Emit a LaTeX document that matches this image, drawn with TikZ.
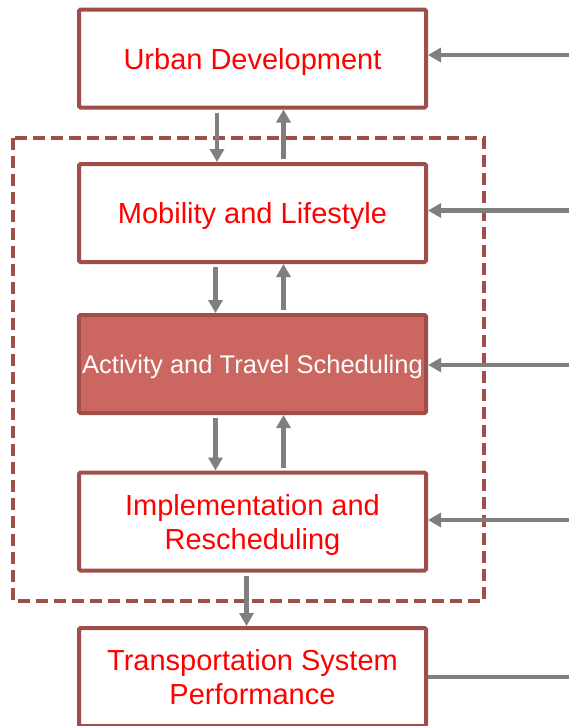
\documentclass[tikz,border=0pt]{standalone}
\usepackage{fontspec}
\setmainfont{Liberation Sans}
\usepackage{xcolor}
\usetikzlibrary{arrows.meta}

\definecolor{boxred}{RGB}{160,78,73}
\definecolor{boxfill}{RGB}{204,102,96}
\definecolor{arrgray}{RGB}{127,127,127}

\begin{document}
\begin{tikzpicture}[x=1pt, y=-1pt, box/.style={rectangle, draw=boxred, line width=4pt, rounded corners=1.5pt, minimum width=347pt, minimum height=98pt, text=red, align=center, text depth=0pt, font=\fontsize{29}{34}\selectfont}, hot/.style={box, fill=boxfill, text=white, font=\fontsize{25.5}{30}\selectfont}, arr/.style={draw=arrgray, line width=4.5pt, -{Triangle[length=13pt,width=14pt]}}, dashbox/.style={draw=boxred, line width=3.5pt, dash pattern=on 12pt off 6pt}]
\useasboundingbox (0,0) rectangle (569,726);
\draw [dashbox] (13,138) rectangle (484,601);
\node[box] (1) at (252.5,58.5) {Urban Development};
\node[box] (2) at (252.5,213) {Mobility and Lifestyle};
\node[hot] (3) at (252.5,364) {Activity and Travel Scheduling};
\node[box] (4) at (252.5,521.5) {Implementation and\\Rescheduling};
\node[box] (5) at (252.5,677) {Transportation System\\Performance};
\coordinate (e1) at (569,55);
\coordinate (e2) at (569,210.5);
\coordinate (e3) at (569,365);
\coordinate (e4) at (569,520);
\coordinate (e5) at (569,677);
% inputs from the right
\draw [arr] (e1) -- (e1 -| 1.east);
\draw [arr] (e2) -- (e2 -| 2.east);
\draw [arr] (e3) -- (e3 -| 3.east);
\draw [arr] (e4) -- (e4 -| 4.east);
\draw [draw=arrgray, line width=4.5pt] (5.east |- e5) -- (e5);
% links between levels
\draw [arr, shorten <=3pt] ([xshift=-35.5pt]1.south) -- ([xshift=-35.5pt]2.north);
\draw [arr, shorten <=3pt] ([xshift=31pt]2.north) -- ([xshift=31pt]1.south);
\draw [arr, shorten <=3pt] ([xshift=-37pt]2.south) -- ([xshift=-37pt]3.north);
\draw [arr, shorten <=3pt] ([xshift=31pt]3.north) -- ([xshift=31pt]2.south);
\draw [arr, shorten <=3pt] ([xshift=-37pt]3.south) -- ([xshift=-37pt]4.north);
\draw [arr, shorten <=3pt] ([xshift=31pt]4.north) -- ([xshift=31pt]3.south);
\draw [arr, shorten <=3pt] ([xshift=-6pt]4.south) -- ([xshift=-6pt]5.north);
\end{tikzpicture}
\end{document}
